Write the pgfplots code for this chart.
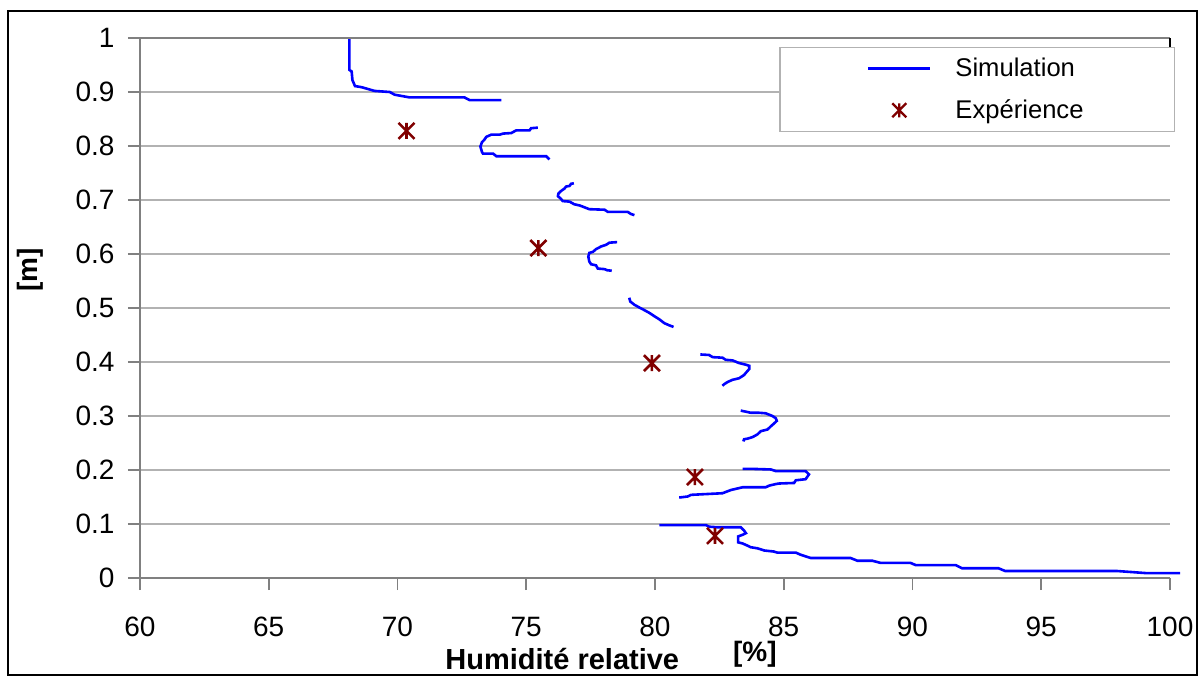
\documentclass[border=0pt]{standalone}
\usepackage{pgfplots}
\pgfplotsset{compat=1.18}
\usepackage{fontspec}
\setmainfont{Liberation Sans}
\definecolor{simblue}{RGB}{0,0,255}
\definecolor{expred}{RGB}{128,0,0}
\definecolor{axisgray}{RGB}{128,128,128}
\definecolor{gridgray}{RGB}{178,178,178}

% Excel-like star marker: an X plus a vertical bar
\pgfdeclareplotmark{xstar}{%
  \pgfpathmoveto{\pgfqpoint{-\pgfplotmarksize}{-\pgfplotmarksize}}%
  \pgfpathlineto{\pgfqpoint{\pgfplotmarksize}{\pgfplotmarksize}}%
  \pgfpathmoveto{\pgfqpoint{-\pgfplotmarksize}{\pgfplotmarksize}}%
  \pgfpathlineto{\pgfqpoint{\pgfplotmarksize}{-\pgfplotmarksize}}%
  \pgfpathmoveto{\pgfqpoint{0pt}{-\pgfplotmarksize}}%
  \pgfpathlineto{\pgfqpoint{0pt}{\pgfplotmarksize}}%
  \pgfusepathqstroke}

\begin{document}
\begin{tikzpicture}
\begin{axis}[
    scale only axis,
    width=515pt, height=270pt,
    xmin=60, xmax=100, ymin=0, ymax=1,
    xtick={60,65,...,100},
    ytick={0,0.1,...,1},
    axis x line*=bottom,
    axis y line*=left,
    axis line style={axisgray, line width=1pt},
    tick align=outside,
    major tick length=6pt,
    tick style={axisgray, line width=0.8pt},
    ymajorgrids=true,
    grid style={gridgray, line width=0.6pt},
    /pgf/number format/assume math mode=true,
    ticklabel style={font=\fontsize{14}{16}\selectfont},
    yticklabel style={xshift=-3.2pt},
    xticklabel style={yshift=-10pt},
    clip=false,
    legend style={at={(axis description cs:1.005,0.983)}, anchor=north east,
        draw=gridgray, line width=0.6pt, inner xsep=43.5pt, inner ysep=3pt,
        row sep=6pt, font=\fontsize{12.8}{14}\selectfont,
        /tikz/every odd column/.append style={column sep=10pt}},
    legend cell align=left,
]
% Simulation (segments separated by nan)
\addplot[simblue, line width=1.3pt, unbounded coords=jump,
    legend image code/.code={\draw[simblue, line width=1.2pt] (0pt,0pt) -- (31pt,0pt);}]
coordinates {
(68.13,1.000)(68.13,0.941)(68.22,0.938)(68.25,0.922)(68.35,0.911)(68.60,0.909)(69.11,0.902)(69.70,0.900)(69.89,0.895)(70.47,0.890)(72.60,0.890)(72.80,0.885)(74.03,0.885)
(nan,nan)
(75.45,0.834)(75.19,0.833)(75.13,0.829)(74.61,0.829)(74.42,0.824)(74.10,0.823)(73.97,0.821)(73.64,0.821)(73.45,0.817)(73.38,0.812)(73.28,0.807)(73.22,0.799)(73.28,0.789)(73.32,0.786)(73.71,0.786)(73.84,0.781)(75.78,0.781)(75.90,0.775)
(nan,nan)
(76.85,0.731)(76.74,0.730)(76.68,0.726)(76.55,0.725)(76.48,0.721)(76.36,0.717)(76.25,0.712)(76.23,0.707)(76.33,0.703)(76.42,0.698)(76.68,0.697)(76.87,0.692)(77.07,0.690)(77.45,0.683)(78.04,0.682)(78.17,0.678)(78.94,0.678)(79.07,0.674)(79.20,0.672)
(nan,nan)
(78.53,0.622)(78.23,0.621)(78.10,0.617)(77.91,0.614)(77.71,0.609)(77.59,0.604)(77.45,0.602)(77.41,0.595)(77.45,0.586)(77.52,0.581)(77.71,0.579)(77.78,0.573)(78.04,0.572)(78.14,0.570)(78.32,0.569)
(nan,nan)
(79.00,0.519)(79.04,0.512)(79.20,0.506)(79.39,0.501)(79.59,0.496)(79.78,0.491)(79.97,0.485)(80.17,0.479)(80.36,0.472)(80.55,0.468)(80.72,0.465)
(nan,nan)
(81.76,0.414)(82.10,0.413)(82.24,0.409)(82.62,0.408)(82.75,0.404)(83.01,0.403)(83.27,0.398)(83.53,0.395)(83.66,0.393)(83.66,0.387)(83.53,0.380)(83.46,0.376)(83.27,0.370)(83.01,0.367)(82.82,0.363)(82.69,0.359)(82.62,0.356)
(nan,nan)
(83.33,0.310)(83.53,0.308)(83.72,0.306)(84.04,0.306)(84.30,0.305)(84.56,0.300)(84.69,0.296)(84.73,0.291)(84.62,0.286)(84.50,0.281)(84.37,0.275)(84.11,0.272)(83.98,0.266)(83.79,0.261)(83.59,0.258)(83.46,0.257)(83.43,0.253)
(nan,nan)
(83.40,0.202)(83.85,0.202)(84.50,0.201)(84.69,0.198)(85.85,0.198)(85.98,0.192)(85.85,0.183)(85.47,0.181)(85.40,0.176)(84.82,0.175)(84.69,0.174)(84.43,0.171)(84.30,0.168)(83.40,0.168)(82.95,0.163)(82.62,0.157)(81.40,0.154)(81.27,0.151)(80.94,0.149)
(nan,nan)
(80.17,0.098)(81.98,0.098)(82.10,0.095)(82.43,0.094)(83.33,0.094)(83.46,0.088)(83.53,0.083)(83.40,0.080)(83.23,0.077)(83.23,0.066)(83.40,0.064)(83.59,0.060)(83.72,0.057)(83.98,0.055)(84.24,0.051)(84.62,0.049)(84.75,0.047)(85.47,0.047)(85.66,0.043)(86.05,0.037)(87.60,0.037)(87.86,0.032)(88.44,0.032)(88.76,0.028)(89.92,0.028)(90.12,0.024)(91.67,0.024)(91.93,0.018)(93.34,0.018)(93.60,0.013)(97.93,0.013)(99.10,0.009)(100.39,0.009)
};
\addlegendentry{Simulation}

% Expérience
\addplot[only marks, mark=xstar, mark size=4pt, color=expred,
    mark options={line width=1.3pt},
    legend image code/.code={\draw[only marks, mark=xstar, expred, mark size=3.5pt, mark options={line width=1.2pt}] plot coordinates {(15.5pt,0pt)};}]
coordinates {
(70.35,0.828)(75.47,0.611)(79.88,0.398)(81.55,0.187)(82.33,0.078)
};
\addlegendentry{Expérience}

\draw[axisgray, line width=1pt] (axis description cs:0,1) -- (axis description cs:1,1);
\draw[black, line width=1pt] (axis description cs:1,1) -- (axis description cs:1,0.83);
\node[font=\bfseries\fontsize{14.5}{16}\selectfont] at (axis description cs:0.41,0) [yshift=-40.5pt] {Humidité relative};
\node[font=\bfseries\fontsize{14}{16}\selectfont] at (axis description cs:0.597,0) [yshift=-38pt] {[\%]};
\node[font=\bfseries\fontsize{14}{16}\selectfont, rotate=90] at (axis description cs:-0.107,0.57) {[m]};
\end{axis}
\draw[black, line width=0.6pt] ([xshift=-66pt,yshift=-48.5pt]current axis.south west) rectangle ([xshift=13.5pt,yshift=13.5pt]current axis.north east);
\path ([xshift=-70pt,yshift=-49.5pt]current axis.south west) rectangle ([xshift=17pt,yshift=19pt]current axis.north east);
\end{tikzpicture}
\end{document}
